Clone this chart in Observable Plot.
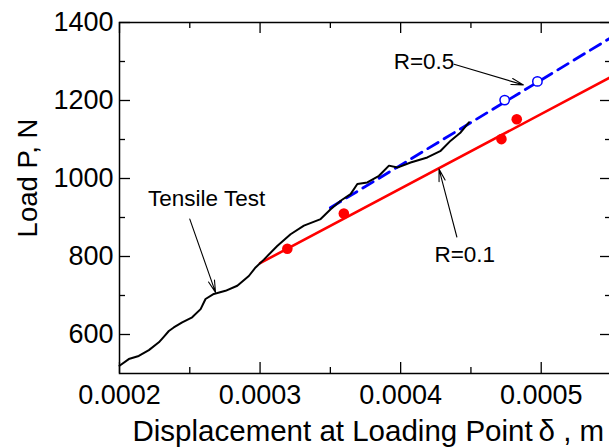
<!DOCTYPE html>
<html>
<head>
<meta charset="utf-8">
<script src="https://cdn.jsdelivr.net/npm/d3@7"></script>
<script src="https://cdn.jsdelivr.net/npm/@observablehq/plot@0.6"></script>
<style>
  html, body { margin: 0; padding: 0; background: #fff; overflow: hidden; }
  #chart svg { display: block; overflow: hidden; }
</style>
</head>
<body>
<div id="chart"></div>
<script>
// Tensile test curve (displacement m, load N)
const tensileX = [0.0002000, 0.0002066, 0.0002137, 0.0002209, 0.0002280, 0.0002315, 0.0002351, 0.0002386,
  0.0002446, 0.0002517, 0.0002577, 0.0002612, 0.0002671, 0.0002754, 0.0002838, 0.0002920, 0.0002968,
  0.0003027, 0.0003122, 0.0003217, 0.0003312, 0.0003431, 0.0003502, 0.0003573, 0.0003644, 0.0003692,
  0.0003763, 0.0003846, 0.0003917, 0.0003977, 0.0004071, 0.0004190, 0.0004285, 0.0004356, 0.0004427, 0.0004486];
const tensileP = [520, 537, 545, 560, 580, 594, 609, 618,
  631, 644, 665, 691, 704, 712, 725, 750, 772,
  792, 827, 857, 879, 896, 921, 943, 960, 986,
  990, 1007, 1033, 1028, 1041, 1054, 1071, 1097, 1118, 1144];

// Fitted lines
const fitR01X = [0.0003, 0.00055];
const fitR01P = [783, 1261];
const fitR05X = [0.00035, 0.00055];
const fitR05P = [925, 1362];

// Test points
const r01X = [0.0003194, 0.0003596, 0.0004717, 0.0004826];
const r01P = [820, 910, 1101, 1152];
const r05X = [0.000474, 0.0004973];
const r05P = [1201, 1249];

// Ticks
const xMajor = [0.0002, 0.0003, 0.0004, 0.0005];
const xMinor = [0.00025, 0.00035, 0.00045, 0.00055];
const yMajor = [600, 800, 1000, 1200, 1400];
const yMinor = [700, 900, 1100, 1300];

// Annotations
const annLabels = ["Tensile Test", "R=0.5", "R=0.1"];
const annTextX = [0.000262, 0.0004166, 0.0004456];
const annTextP = [949, 1298, 804];
const arrowX1 = [0.00025, 0.000438, 0.00044];
const arrowP1 = [896, 1293, 850];
const arrowX2 = [0.0002683, 0.0004873, 0.0004273];
const arrowP2 = [708, 1240, 1024];

const xTitle = "Displacement at Loading Point\u2009δ , m";
const yTitle = "Load P, N";

const W = 609, H = 447;
const mL = 119, mR = -2, mT = 22, mB = 74;
const innerW = W - mL - mR, innerH = H - mT - mB;
const FONT = "Liberation Sans, Arial, Helvetica, sans-serif";

const tensile = tensileX.map((x, i) => ({x, p: tensileP[i]}));
const lineR01 = fitR01X.map((x, i) => ({x, p: fitR01P[i]}));
const lineR05 = fitR05X.map((x, i) => ({x, p: fitR05P[i]}));
const ptsR01 = r01X.map((x, i) => ({x, p: r01P[i]}));
const ptsR05 = r05X.map((x, i) => ({x, p: r05P[i]}));
const ann = annLabels.map((t, i) => ({t, x: annTextX[i], p: annTextP[i]}));
const arrows = arrowX1.map((x1, i) => ({x1, y1: arrowP1[i], x2: arrowX2[i], y2: arrowP2[i]}));

const tickLen = 11, minorLen = 6;

const chart = Plot.plot({
  width: W, height: H,
  marginLeft: mL, marginRight: mR, marginTop: mT, marginBottom: mB,
  style: {fontFamily: FONT, background: "#fff", color: "#000"},
  x: {domain: [0.0002, 0.00055]},
  y: {domain: [500, 1400]},
  marks: [
    // inward ticks, four sides
    Plot.tickY(yMajor, {y: d => d, insetRight: innerW - tickLen, stroke: "#000", strokeWidth: 1.3}),
    Plot.tickY(yMinor, {y: d => d, insetRight: innerW - minorLen, stroke: "#000", strokeWidth: 1.3}),
    Plot.tickY(yMajor, {y: d => d, insetLeft: innerW - tickLen, stroke: "#000", strokeWidth: 1.3}),
    Plot.tickY(yMinor, {y: d => d, insetLeft: innerW - minorLen, stroke: "#000", strokeWidth: 1.3}),
    Plot.tickX(xMajor, {x: d => d, insetTop: innerH - tickLen, stroke: "#000", strokeWidth: 1.3}),
    Plot.tickX(xMinor, {x: d => d, insetTop: innerH - minorLen, stroke: "#000", strokeWidth: 1.3}),
    Plot.tickX(xMajor, {x: d => d, insetBottom: innerH - tickLen, stroke: "#000", strokeWidth: 1.3}),
    Plot.tickX(xMinor, {x: d => d, insetBottom: innerH - minorLen, stroke: "#000", strokeWidth: 1.3}),
    Plot.frame({stroke: "#000", strokeWidth: 1.5}),
    // tick labels
    Plot.axisX({ticks: xMajor, tickSize: 0, tickPadding: 11, fontSize: 27, tickFormat: d => d.toFixed(4), label: null}),
    Plot.axisY({ticks: yMajor, tickSize: 0, tickPadding: 6, fontSize: 27, tickFormat: d => String(d), label: null}),
    // axis titles
    Plot.text([xTitle], {frameAnchor: "bottom-left", text: d => d, fontSize: 29.5, lineAnchor: "bottom", textAnchor: "start", dy: 67, dx: 13, fill: "#000"}),
    Plot.text([yTitle], {frameAnchor: "left", text: d => d, fontSize: 27.5, rotate: -90, lineAnchor: "bottom", textAnchor: "middle", dx: -83, dy: -20, fill: "#000"}),
    // data
    Plot.line(lineR01, {x: "x", y: "p", stroke: "#ff0000", strokeWidth: 2.6}),
    Plot.line(lineR05, {x: "x", y: "p", stroke: "#0000ff", strokeWidth: 2.8, strokeDasharray: "12,7"}),
    Plot.line(tensile, {x: "x", y: "p", stroke: "#000", strokeWidth: 2}),
    Plot.dot(ptsR01, {x: "x", y: "p", r: 5.3, fill: "#ff0000", stroke: "none"}),
    Plot.dot(ptsR05, {x: "x", y: "p", r: 4.7, fill: "#fff", stroke: "#0000ff", strokeWidth: 1.5}),
    // annotations
    Plot.arrow(arrows, {x1: "x1", y1: "y1", x2: "x2", y2: "y2", stroke: "#000", strokeWidth: 1.1, headLength: 17, headAngle: 29}),
    Plot.text(ann, {x: "x", y: "p", text: "t", fontSize: 22.5, lineAnchor: "middle", textAnchor: "middle", fill: "#000"})
  ]
});
document.getElementById("chart").appendChild(chart);
</script>
</body>
</html>
